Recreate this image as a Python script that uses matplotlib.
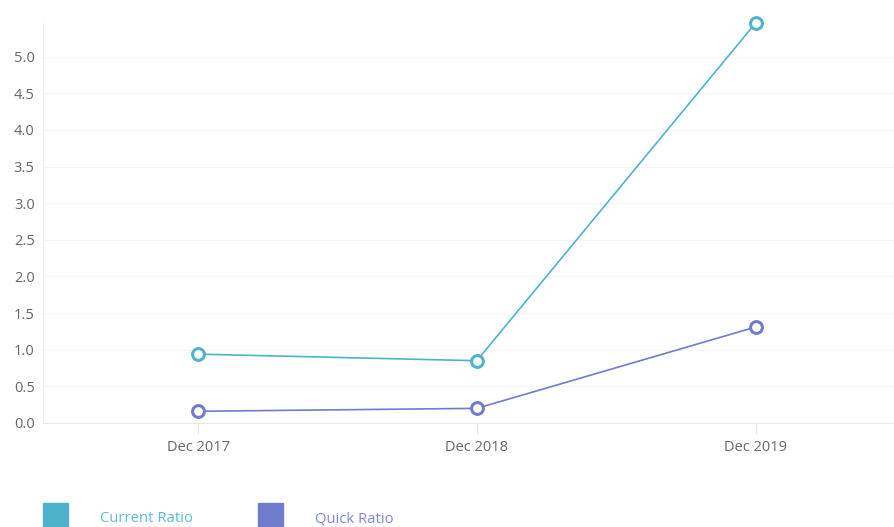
import matplotlib
matplotlib.use('Agg')
import matplotlib.pyplot as plt
from matplotlib.patches import Rectangle

# data
periods = ["Dec 2017", "Dec 2018", "Dec 2019"]
current_ratio = [0.94, 0.85, 5.46]
quick_ratio = [0.16, 0.20, 1.31]
y_ticks = [0.0, 0.5, 1.0, 1.5, 2.0, 2.5, 3.0, 3.5, 4.0, 4.5, 5.0]

CURRENT_COLOR = "#4eb3cb"
QUICK_COLOR = "#6f7dcc"

plt.rcParams['font.family'] = ['Open Sans', 'DejaVu Sans']

W, H = 895, 527
fig = plt.figure(figsize=(W / 100, H / 100), dpi=100)
left, right, top, bottom = 43, 895, 23, 423
ax = fig.add_axes([left / W, (H - bottom) / H, (right - left) / W, (bottom - top) / H])

x = list(range(len(periods)))
for vals, col in [(current_ratio, CURRENT_COLOR), (quick_ratio, QUICK_COLOR)]:
    ax.plot(x, vals, color=col, linewidth=1.2, marker='o', markersize=8.5,
            markerfacecolor='white', markeredgecolor=col, markeredgewidth=2.2,
            clip_on=False, zorder=3)

ax.set_xlim(-0.556, 2.5)
ax.set_ylim(0, 5.46)
ax.set_xticks(x)
ax.set_xticklabels(periods)
ax.set_yticks(y_ticks)
ax.set_yticklabels([f"{v:.1f}" for v in y_ticks])
ax.tick_params(axis='x', length=8, width=0.8, color='#e6e6e6', labelcolor='#666666',
               labelsize=10.5, pad=4)
ax.tick_params(axis='y', length=0, labelcolor='#666666', labelsize=10.5, pad=6)

ax.grid(axis='y', color='#f5f5f5', linewidth=0.8)
ax.set_axisbelow(True)
for s in ['top', 'right']:
    ax.spines[s].set_visible(False)
ax.spines['bottom'].set_color('#e6e6e6')
ax.spines['left'].set_color('#f0f0f0')
ax.spines['left'].set_linewidth(0.8)

# legend drawn as squares + text, like the original chart
def legend_item(px, label, col, text_col):
    fig.patches.append(Rectangle((px / W, (H - 527) / H), 25 / W, 24 / H,
                                 transform=fig.transFigure, color=col))
    fig.text((px + 57) / W, (H - 519) / H, label, color=text_col,
             fontsize=10.7, va='center', ha='left')

legend_item(43, "Current Ratio", CURRENT_COLOR, "#5fbcd3")
legend_item(258, "Quick Ratio", QUICK_COLOR, "#7e8ad3")

fig.savefig("out.png", dpi=100)
